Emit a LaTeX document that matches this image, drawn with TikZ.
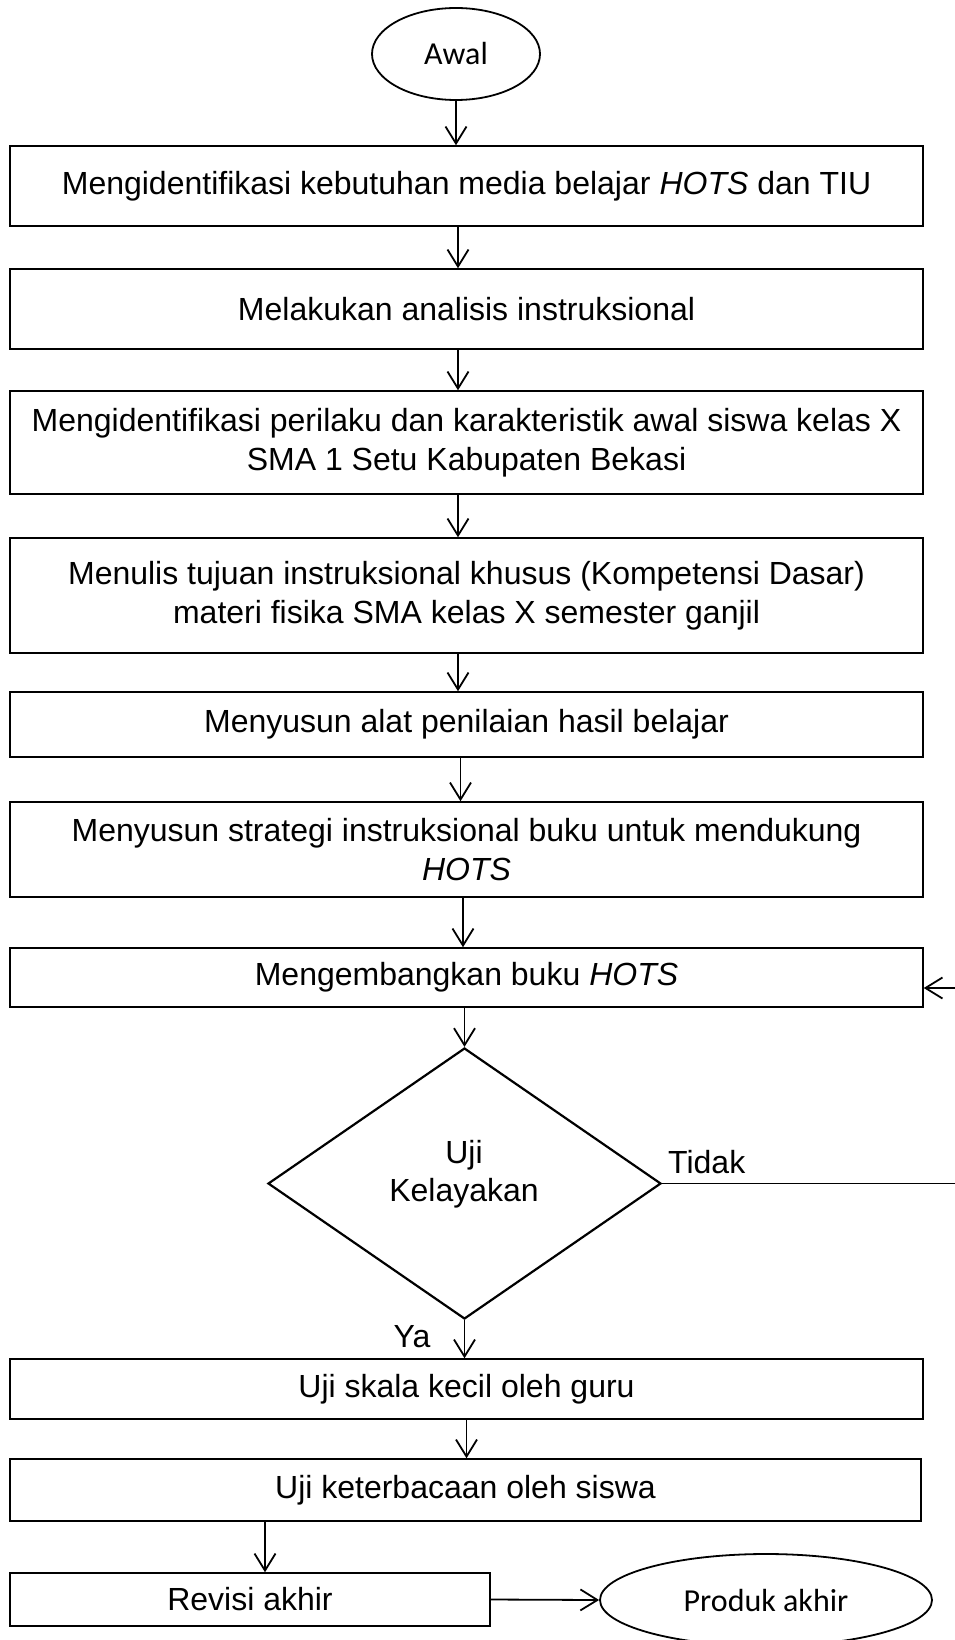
\documentclass[tikz,border=0pt]{standalone}
\usepackage{fontspec}
\setmainfont{Liberation Sans}
\newfontfamily\calib{Carlito}
\usetikzlibrary{shapes.geometric,arrows.meta}
\begin{document}
\begin{tikzpicture}[x=1pt,y=-1pt,
  every node/.style={font=\fontsize{32}{38.5}\selectfont},
  procbox/.style={draw,line width=1.5pt,inner sep=0pt,align=center,minimum width=913pt},
  term/.style={draw,ellipse,line width=1.8pt,inner sep=0pt,font=\calib\fontsize{32}{38}\selectfont},
  decis/.style={draw,diamond,line width=2.2pt,inner sep=0pt,minimum width=393pt,minimum height=271pt},
  flow/.style={line width=1.8pt,-{Straight Barb[length=17pt,width=21pt,line width=1.8pt]}},
  plain/.style={line width=1pt}]
\useasboundingbox (0,0) rectangle (955,1640);
\node[term,minimum width=168pt,minimum height=92pt] (e1) at (456,54) {Awal};
\node[procbox,minimum height=80pt] (b1) at (466.5,186) {Mengidentifikasi kebutuhan media belajar \textit{HOTS} dan TIU};
\node[procbox,minimum height=80pt] (b2) at (466.5,309) {Melakukan analisis instruksional};
\node[procbox,minimum height=103pt] (b3) at (466.5,442.5) {Mengidentifikasi perilaku dan karakteristik awal siswa kelas X\\SMA 1 Setu Kabupaten Bekasi};
\node[procbox,minimum height=115pt] (b4) at (466.5,595.5) {Menulis tujuan instruksional khusus (Kompetensi Dasar)\\materi fisika SMA kelas X semester ganjil};
\node[procbox,minimum height=65pt] (b5) at (466.5,724.5) {Menyusun alat penilaian hasil belajar};
\node[procbox,minimum height=95pt] (b6) at (466.5,849.5) {Menyusun strategi instruksional buku untuk mendukung\\\textit{HOTS}};
\node[procbox,minimum height=59pt] (b7) at (466.5,977.5) {Mengembangkan buku \textit{HOTS}};
\node[decis] (d) at (464.5,1183.5) {};
\node[align=center,inner sep=0pt] (dt) at (464,1174) {Uji\\[-1pt]Kelayakan};
\node[procbox,minimum height=60pt] (b8) at (466.5,1389) {Uji skala kecil oleh guru};
\node[procbox,minimum height=62pt,minimum width=911pt] (b9) at (465.5,1490) {Uji keterbacaan oleh siswa};
\node[procbox,minimum height=53pt,minimum width=480pt] (b10) at (250,1599.5) {Revisi akhir};
\node[term,minimum width=332pt,minimum height=92pt] (e2) at (766,1600) {Produk akhir};
\node[anchor=base west,inner sep=0pt] (tidak) at (668,1173) {Tidak};
\node[anchor=base,inner sep=0pt] (ya) at (412,1347) {Ya};
\coordinate (tend) at (955,1183.5);
\coordinate (rin) at (955,988);
\draw[flow] (e1.south) -- (e1.south |- b1.north);
\draw[flow] ([xshift=-8.5pt]b1.south) -- ([xshift=-8.5pt]b2.north);
\draw[flow] ([xshift=-8.5pt]b2.south) -- ([xshift=-8.5pt]b3.north);
\draw[flow] ([xshift=-8.5pt]b3.south) -- ([xshift=-8.5pt]b4.north);
\draw[flow] ([xshift=-8.5pt]b4.south) -- ([xshift=-8.5pt]b5.north);
\draw[flow] ([xshift=-6pt]b5.south) -- ([xshift=-6pt]b6.north);
\draw[flow] ([xshift=-3.5pt]b6.south) -- ([xshift=-3.5pt]b7.north);
\draw[flow] (d.north |- b7.south) -- (d.north);
\draw[plain] (d.east) -- (tend);
\draw[flow] (rin) -- (b7.east |- rin);
\draw[flow] (d.south) -- (d.south |- b8.north);
\draw[flow] (b8.south) -- (b8.south |- b9.north);
\draw[flow] ([xshift=15pt]b10.north |- b9.south) -- ([xshift=15pt]b10.north);
\draw[flow] (b10.east) -- (e2.west);
\end{tikzpicture}
\end{document}
